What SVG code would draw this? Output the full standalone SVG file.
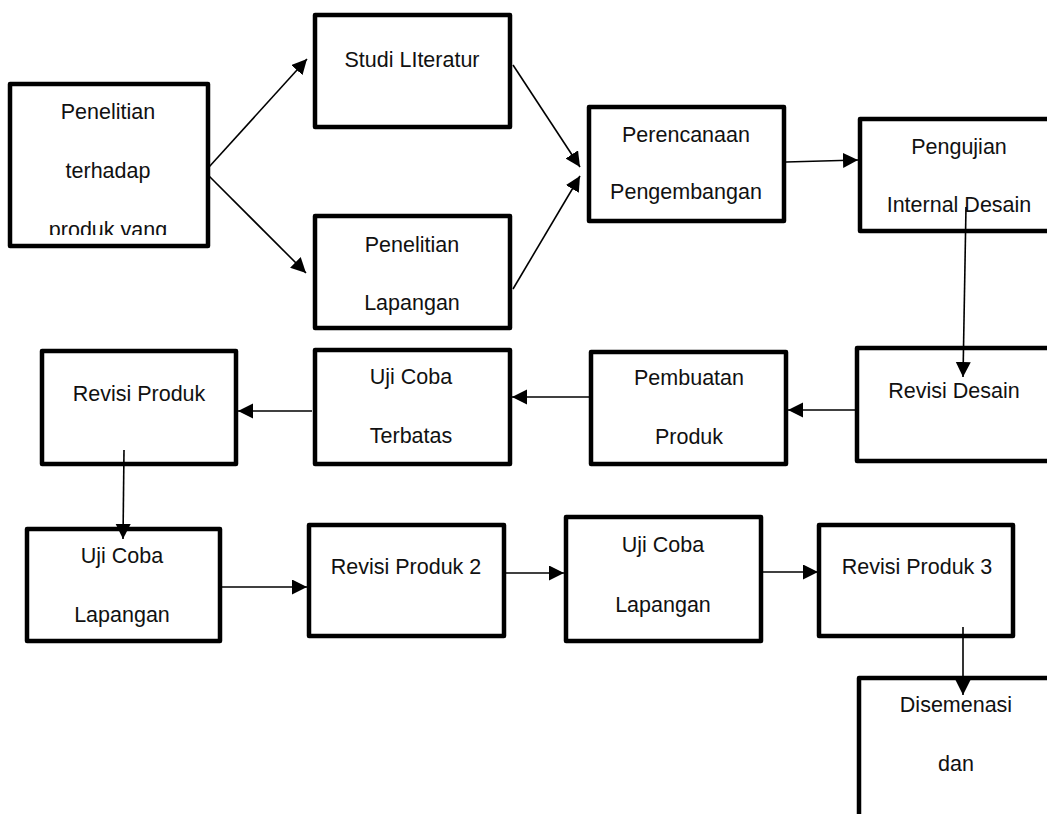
<svg xmlns="http://www.w3.org/2000/svg" width="1047" height="814" viewBox="0 0 1047 814">
<style>
.box{fill:#fff;stroke:#000;stroke-width:4.5;stroke-linejoin:round}
.t{font-family:"Liberation Sans",Arial,sans-serif;font-size:21.5px;fill:#111;text-anchor:middle}
.c{fill:none;stroke:#000;stroke-width:1.6}
</style>
<defs>
<marker id="ah" markerUnits="userSpaceOnUse" markerWidth="16" markerHeight="16" refX="15" refY="7.5" orient="auto">
<path d="M0,0 L15,7.5 L0,15 z" fill="#000"/>
</marker>
<clipPath id="clipA"><rect x="12" y="86" width="194" height="149"/></clipPath>
</defs>
<rect width="1047" height="814" fill="#fff"/>
<g id="n-penelitian-produk">
<rect class="box" x="10" y="84" width="198" height="162"/>
<g clip-path="url(#clipA)">
<text class="t" x="108" y="119">Penelitian</text>
<text class="t" x="108" y="178">terhadap</text>
<text class="t" x="108" y="237">produk yang</text>
</g>
</g>
<g id="n-studi-literatur">
<rect class="box" x="315" y="15" width="195" height="112"/>
<text class="t" x="412" y="67">Studi LIteratur</text>
</g>
<g id="n-penelitian-lapangan">
<rect class="box" x="315" y="216" width="195" height="112"/>
<text class="t" x="412" y="252">Penelitian</text>
<text class="t" x="412" y="310">Lapangan</text>
</g>
<g id="n-perencanaan">
<rect class="box" x="589" y="107" width="195" height="114"/>
<text class="t" x="686" y="142">Perencanaan</text>
<text class="t" x="686" y="199">Pengembangan</text>
</g>
<g id="n-pengujian">
<rect class="box" x="860" y="119" width="200" height="112"/>
<text class="t" x="959" y="154">Pengujian</text>
<text class="t" x="959" y="212">Internal Desain</text>
</g>
<g id="n-revisi-desain">
<rect class="box" x="857" y="348" width="200" height="113"/>
<text class="t" x="954" y="398">Revisi Desain</text>
</g>
<g id="n-pembuatan">
<rect class="box" x="591" y="352" width="195" height="112"/>
<text class="t" x="689" y="385">Pembuatan</text>
<text class="t" x="689" y="444">Produk</text>
</g>
<g id="n-uji-terbatas">
<rect class="box" x="315" y="350" width="195" height="114"/>
<text class="t" x="411" y="384">Uji Coba</text>
<text class="t" x="411" y="443">Terbatas</text>
</g>
<g id="n-revisi-produk">
<rect class="box" x="42" y="351" width="194" height="113"/>
<text class="t" x="139" y="401">Revisi Produk</text>
</g>
<g id="n-uji-lapangan-1">
<rect class="box" x="27" y="529" width="193" height="112"/>
<text class="t" x="122" y="563">Uji Coba</text>
<text class="t" x="122" y="622">Lapangan</text>
</g>
<g id="n-revisi-produk-2">
<rect class="box" x="309" y="525" width="195" height="111"/>
<text class="t" x="406" y="574">Revisi Produk 2</text>
</g>
<g id="n-uji-lapangan-2">
<rect class="box" x="566" y="517" width="195" height="124"/>
<text class="t" x="663" y="552">Uji Coba</text>
<text class="t" x="663" y="612">Lapangan</text>
</g>
<g id="n-revisi-produk-3">
<rect class="box" x="819" y="525" width="194" height="111"/>
<text class="t" x="917" y="574">Revisi Produk 3</text>
</g>
<g id="n-disemenasi">
<rect class="box" x="859" y="678" width="200" height="160"/>
<text class="t" x="956" y="712">Disemenasi</text>
<text class="t" x="956" y="771">dan</text>
</g>
<g id="connectors">
<line class="c" x1="209" y1="167" x2="307" y2="59" marker-end="url(#ah)"/>
<line class="c" x1="209" y1="176" x2="306" y2="273" marker-end="url(#ah)"/>
<line class="c" x1="513" y1="65" x2="580" y2="167" marker-end="url(#ah)"/>
<line class="c" x1="513" y1="289" x2="580" y2="176" marker-end="url(#ah)"/>
<line class="c" x1="786" y1="162" x2="858" y2="160" marker-end="url(#ah)"/>
<line class="c" x1="966" y1="207" x2="963" y2="377" marker-end="url(#ah)"/>
<line class="c" x1="855" y1="410" x2="788" y2="410" marker-end="url(#ah)"/>
<line class="c" x1="589" y1="397" x2="512" y2="397" marker-end="url(#ah)"/>
<line class="c" x1="312" y1="411" x2="238" y2="411" marker-end="url(#ah)"/>
<line class="c" x1="124" y1="450" x2="123" y2="539" marker-end="url(#ah)"/>
<line class="c" x1="222" y1="587" x2="307" y2="587" marker-end="url(#ah)"/>
<line class="c" x1="506" y1="573" x2="564" y2="573" marker-end="url(#ah)"/>
<line class="c" x1="763" y1="572" x2="818" y2="572" marker-end="url(#ah)"/>
<line class="c" x1="963" y1="627" x2="963" y2="695" marker-end="url(#ah)"/>
</g>
</svg>
